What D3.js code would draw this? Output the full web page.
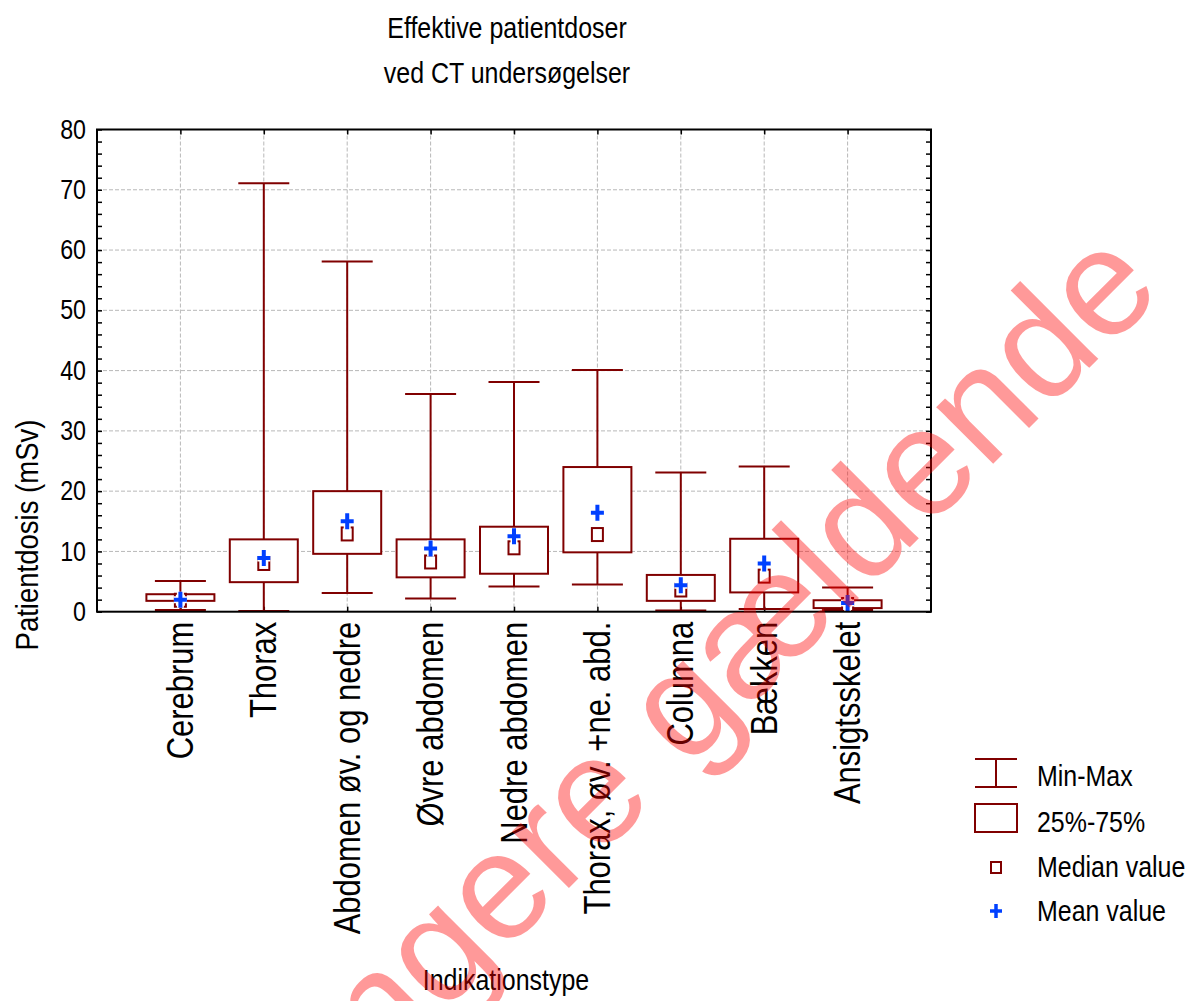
<!DOCTYPE html>
<html lang="da">
<head>
    <meta charset="utf-8">
    <title>Effektive patientdoser</title>
    <script type="text/javascript" src="https://d3js.org/d3.v7.min.js"></script>
    <style>
        body { margin: 0; background: #fff; }
        svg text { font-family: "Liberation Sans", Arial, sans-serif; fill: #000; }
    </style>
</head>
<body>
    <div id="chart"></div>

    <script type="text/javascript">
        // data (mSv)
        const categories = ["Cerebrum", "Thorax", "Abdomen øv. og nedre", "Øvre abdomen", "Nedre abdomen",
                            "Thorax, øv. +ne. abd.", "Columna", "Bækken", "Ansigtsskelet"];
        const mins    = [0.3, 0.1, 3.1, 2.2, 4.2, 4.5, 0.2, 0.45, 0.3];
        const q1s     = [1.8, 4.9, 9.6, 5.7, 6.3, 9.85, 1.8, 3.2, 0.6];
        const medians = [1.9, 8.0, 12.9, 8.25, 10.6, 12.8, 3.6, 5.9, 1.2];
        const q3s     = [2.9, 12.0, 20.0, 12.0, 14.1, 24.0, 6.1, 12.1, 1.9];
        const maxs    = [5.1, 71.1, 58.1, 36.1, 38.1, 40.1, 23.1, 24.1, 4.0];
        const means   = [2.0, 8.9, 15.0, 10.5, 12.5, 16.4, 4.4, 8.0, 1.45];
        const yTicks  = [0, 10, 20, 30, 40, 50, 60, 70, 80];
        const legendLabels = ["Min-Max", "25%-75%", "Median value", "Mean value"];

        const width = 1195;
        const height = 1001;
        const plot = {left: 97, right: 931, top: 129.5, bottom: 611.7};
        const boxColor = "#800000";
        const meanColor = "#0040ff";
        const squeezeK = 0.86;

        const svg = d3.select("#chart")
            .append("svg")
            .attr("width", width)
            .attr("height", height);

        const rows = categories.map((c, i) => ({
            name: c, min: mins[i], q1: q1s[i], median: medians[i], q3: q3s[i], max: maxs[i], mean: means[i]
        }));

        const xScale = d3.scalePoint()
            .domain(categories)
            .range([plot.left, plot.right])
            .padding(1);

        const yScale = d3.scaleLinear()
            .domain([0, 80])
            .range([plot.bottom, plot.top]);

        // narrow the Arial glyphs the way the original program does
        function squeeze(sel, k) {
            sel.each(function() {
                const w = this.getComputedTextLength();
                d3.select(this).attr("textLength", w * k).attr("lengthAdjust", "spacingAndGlyphs");
            });
        }

        // grid
        svg.append("g")
            .selectAll("line")
            .data(yTicks.filter(t => t > 0 && t < 80))
            .enter()
            .append("line")
                .attr("x1", plot.left).attr("x2", plot.right)
                .attr("y1", d => yScale(d)).attr("y2", d => yScale(d))
                .attr("stroke", "#b8b8b8")
                .attr("stroke-dasharray", "4,2");

        svg.append("g")
            .selectAll("line")
            .data(categories)
            .enter()
            .append("line")
                .attr("x1", d => xScale(d)).attr("x2", d => xScale(d))
                .attr("y1", plot.top).attr("y2", plot.bottom)
                .attr("stroke", "#b8b8b8")
                .attr("stroke-dasharray", "4,2");

        // axes: ticks point inside the frame
        const minor = d3.range(0, 81, 2);
        svg.append("g")
            .attr("transform", "translate(" + plot.left + ",0)")
            .call(d3.axisLeft(yScale).tickValues(minor).tickSize(-5).tickFormat(""));
        svg.append("g")
            .attr("transform", "translate(" + plot.right + ",0)")
            .call(d3.axisRight(yScale).tickValues(minor).tickSize(-5).tickFormat(""));
        svg.append("g")
            .attr("transform", "translate(0," + plot.top + ")")
            .call(d3.axisTop(xScale).tickSize(-5).tickFormat(""));
        svg.append("g")
            .attr("class", "axis x")
            .attr("transform", "translate(0," + plot.bottom + ")")
            .call(d3.axisBottom(xScale).tickSize(-5).tickFormat(""));

        const yAxis = svg.append("g")
            .attr("transform", "translate(" + plot.left + ",0)")
            .call(d3.axisLeft(yScale).tickValues(yTicks).tickSize(0).tickPadding(11));
        yAxis.selectAll("text")
            .attr("font-size", 27)
            .style("font-family", "'Liberation Sans', Arial, sans-serif")
            .call(squeeze, squeezeK);

        svg.selectAll(".domain").remove();
        svg.selectAll(".tick line").attr("stroke", "#000").attr("stroke-width", 1.5);

        // category labels, rotated
        svg.append("g")
            .selectAll("text")
            .data(categories)
            .enter()
            .append("text")
                .attr("transform", d => "translate(" + xScale(d) + "," + (plot.bottom + 10) + ") rotate(-90)")
                .attr("text-anchor", "end")
                .attr("dy", "0.35em")
                .attr("font-size", 36)
                .text(d => d)
                .call(squeeze, squeezeK);

        // boxes
        const boxW = 68, capW = 51;
        const boxes = svg.append("g")
            .selectAll("g")
            .data(rows)
            .enter()
            .append("g")
                .attr("transform", d => "translate(" + xScale(d.name) + ",0)");

        boxes.append("line")
            .attr("y1", d => yScale(d.min)).attr("y2", d => yScale(d.max))
            .attr("stroke", boxColor).attr("stroke-width", 2);
        boxes.append("line")
            .attr("x1", -capW / 2).attr("x2", capW / 2)
            .attr("y1", d => yScale(d.max)).attr("y2", d => yScale(d.max))
            .attr("stroke", boxColor).attr("stroke-width", 2);
        boxes.append("line")
            .attr("x1", -capW / 2).attr("x2", capW / 2)
            .attr("y1", d => yScale(d.min)).attr("y2", d => yScale(d.min))
            .attr("stroke", boxColor).attr("stroke-width", 2);
        boxes.append("rect")
            .attr("x", -boxW / 2)
            .attr("width", boxW)
            .attr("y", d => yScale(d.q3))
            .attr("height", d => yScale(d.q1) - yScale(d.q3))
            .attr("fill", "#fff")
            .attr("stroke", boxColor).attr("stroke-width", 2);
        boxes.append("rect")
            .attr("x", -5.5)
            .attr("width", 11)
            .attr("y", d => yScale(d.median) - 6.5)
            .attr("height", 13)
            .attr("fill", "#fff")
            .attr("stroke", boxColor).attr("stroke-width", 2);

        const cross = (w, h) => "M" + (-w / 2) + ",0H" + (w / 2) + "M0," + (-h / 2) + "V" + (h / 2);
        boxes.append("path")
            .attr("transform", d => "translate(0," + yScale(d.mean) + ")")
            .attr("d", cross(13, 16))
            .attr("fill", "none").attr("stroke", "#fff").attr("stroke-width", 7);
        boxes.append("path")
            .attr("transform", d => "translate(0," + yScale(d.mean) + ")")
            .attr("d", cross(13, 16))
            .attr("fill", "none").attr("stroke", meanColor).attr("stroke-width", 4);

        // frame
        svg.append("rect")
            .attr("x", plot.left).attr("y", plot.top)
            .attr("width", plot.right - plot.left)
            .attr("height", plot.bottom - plot.top)
            .attr("fill", "none")
            .attr("stroke", "#000").attr("stroke-width", 2);

        // titles
        svg.append("text")
            .attr("x", 507).attr("y", 38)
            .attr("text-anchor", "middle").attr("font-size", 29)
            .text("Effektive patientdoser")
            .call(squeeze, squeezeK);
        svg.append("text")
            .attr("x", 507).attr("y", 83)
            .attr("text-anchor", "middle").attr("font-size", 29)
            .text("ved CT undersøgelser")
            .call(squeeze, squeezeK);
        svg.append("text")
            .attr("x", 506).attr("y", 990)
            .attr("text-anchor", "middle").attr("font-size", 29)
            .text("Indikationstype")
            .call(squeeze, squeezeK);
        svg.append("text")
            .attr("transform", "translate(38,535) rotate(-90)")
            .attr("text-anchor", "middle").attr("font-size", 32)
            .text("Patientdosis (mSv)")
            .call(squeeze, squeezeK);

        // legend
        const legend = svg.append("g").attr("transform", "translate(996,0)");
        legend.append("path")
            .attr("d", "M-21,759H21M-21,787H21M0,759V787")
            .attr("fill", "none").attr("stroke", boxColor).attr("stroke-width", 2);
        legend.append("rect")
            .attr("x", -21).attr("y", 804).attr("width", 42).attr("height", 28)
            .attr("fill", "#fff").attr("stroke", boxColor).attr("stroke-width", 2);
        legend.append("rect")
            .attr("x", -5).attr("y", 862).attr("width", 10).attr("height", 11)
            .attr("fill", "#fff").attr("stroke", boxColor).attr("stroke-width", 2);
        legend.append("path")
            .attr("transform", "translate(0,911)")
            .attr("d", cross(12, 14))
            .attr("fill", "none").attr("stroke", meanColor).attr("stroke-width", 3.5);
        legend.selectAll("text")
            .data(legendLabels)
            .enter()
            .append("text")
                .attr("x", 41)
                .attr("y", (d, i) => [786, 832, 877, 921][i])
                .attr("font-size", 29)
                .text(d => d)
                .call(squeeze, squeezeK);

        // watermark on top of everything
        svg.append("text")
            .attr("transform", "translate(1165,292) rotate(-45)")
            .attr("text-anchor", "end")
            .attr("font-size", 152)
            .style("fill", "#ff0000")
            .style("fill-opacity", 0.4)
            .text("Ikke længere gældende");
    </script>
</body>
</html>
